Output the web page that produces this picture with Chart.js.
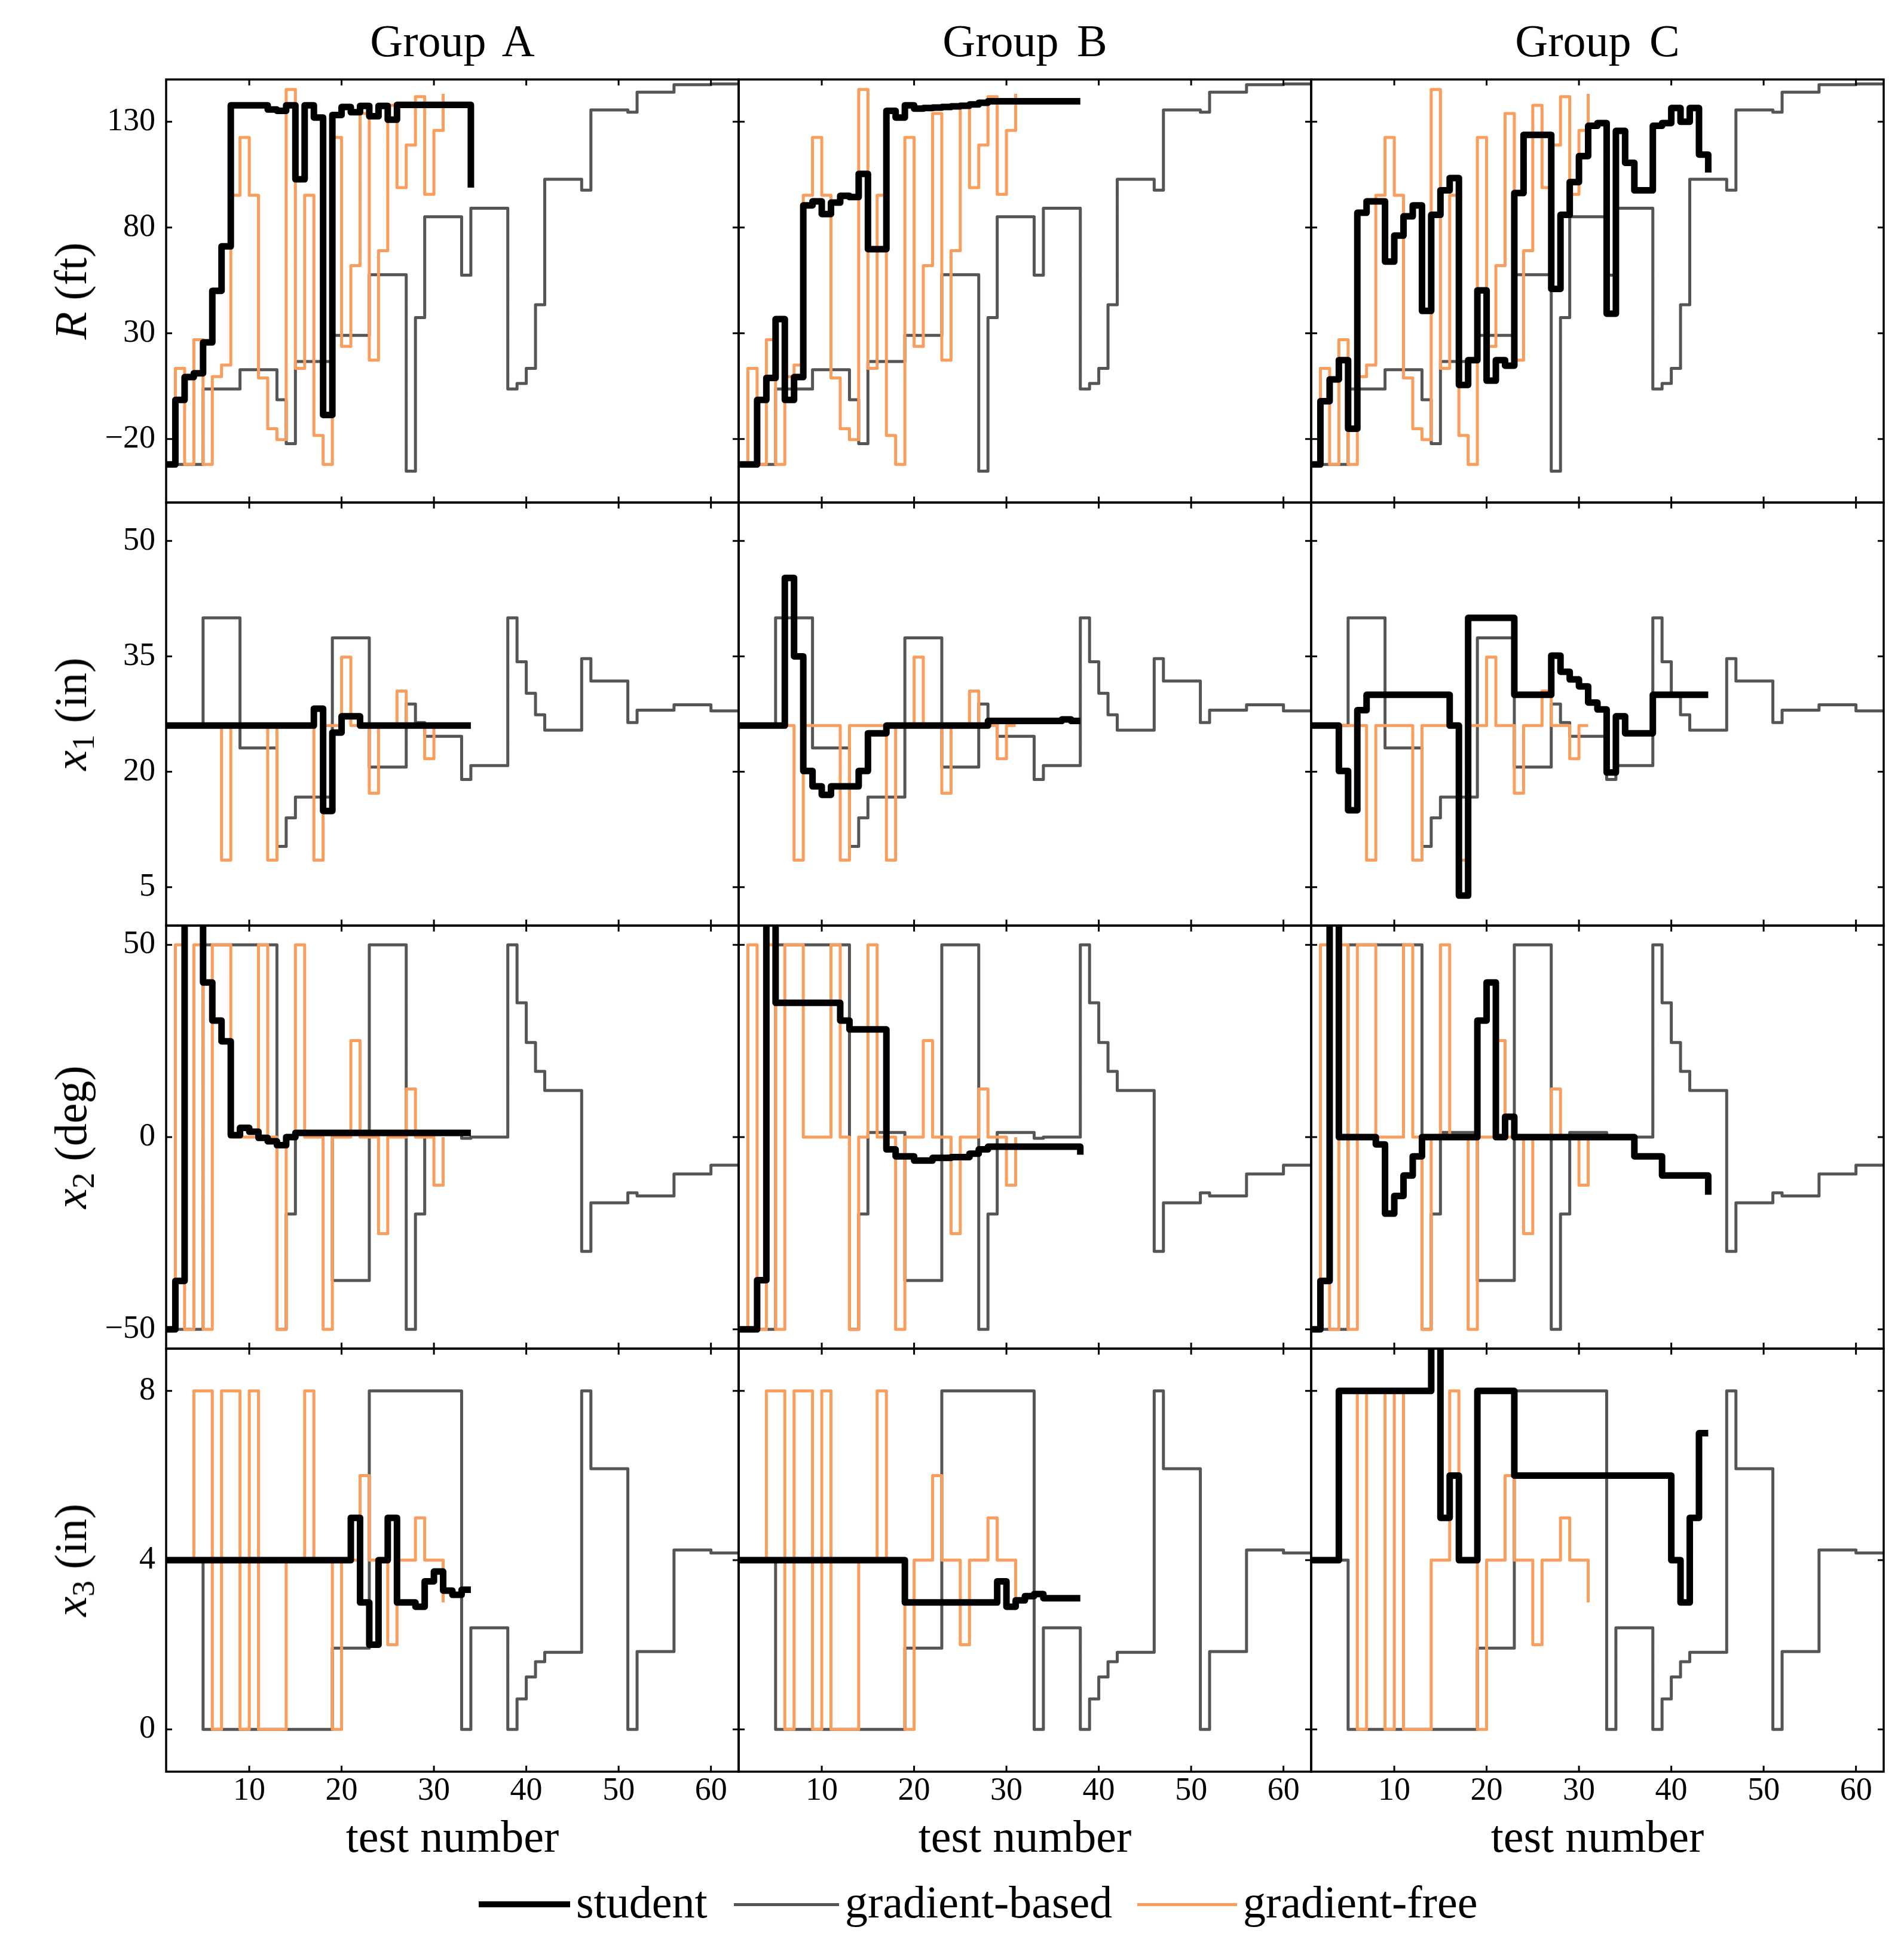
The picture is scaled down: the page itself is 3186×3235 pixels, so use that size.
<!DOCTYPE html>
<html>
<head>
<meta charset="utf-8">
<script src="https://cdn.jsdelivr.net/npm/chart.js@4.4.1/dist/chart.umd.min.js"></script>
<style>
  html, body { margin: 0; padding: 0; background: #fff; }
  #fig { position: relative; width: 3186px; height: 3235px; overflow: hidden; background: #fff;
         font-family: "Liberation Serif", "DejaVu Serif", serif; color: #000; }
  #fig canvas { position: absolute; }
  .txt { position: absolute; white-space: nowrap; line-height: 1; font-size: 76px; }
  .center { transform: translate(-50%, -50%); }
  .ytitle { transform: translate(-50%, -50%) rotate(-90deg); }
  .txt sub { font-size: 0.7em; vertical-align: -0.25em; line-height: 0; }
  .legline { position: absolute; }
</style>
</head>
<body>
<div id="fig"></div>
<script>
// ---- data ----
const groups = ["Group A", "Group B", "Group C"];
const rowTitles = ["<i>R</i> (ft)", "<i>x</i><sub>1</sub> (in)", "<i>x</i><sub>2</sub> (deg)", "<i>x</i><sub>3</sub> (in)"];
const xTicks = [10, 20, 30, 40, 50, 60];
const yTicks = [[-20, 30, 80, 130], [5, 20, 35, 50], [-50, 0, 50], [0, 4, 8]];
const yRanges = [[-50, 150], [0, 55], [-55, 55], [-1, 9]];

// gradient-based (same in every group)
const gradBasedR = [-32, -32, -32, -32, 3.7, 3.7, 3.7, 3.7, 12.8, 12.8, 12.8, 12.8, -1.4, -22.2, 16.7, 16.7, 16.7, 16.7, 29, 29, 29, 29, 57.7, 57.7, 57.7, 57.7, -35.2, 37.4, 85.1, 85.1, 85.1, 85.1, 57.5, 89.1, 89.1, 89.1, 89.1, 3.7, 6.3, 13.4, 43.5, 102.8, 102.8, 102.8, 102.8, 97.7, 135.6, 135.6, 135.6, 135.6, 134.5, 144, 144, 144, 144, 147.5, 147.5, 147.5, 147.5, 147.9, 147.9, 147.9, 147.9];
const gradBasedX1 = [26, 26, 26, 26, 40, 40, 40, 40, 23.1, 23.1, 23.1, 23.1, 10.3, 14.0, 16.7, 16.7, 16.7, 16.7, 37.4, 37.4, 37.4, 37.4, 20.6, 20.6, 20.6, 20.6, 28.8, 26.4, 24.6, 24.6, 24.6, 24.6, 19.0, 20.8, 20.8, 20.8, 20.8, 40, 34.3, 30.2, 27.4, 25.4, 25.4, 25.4, 25.4, 34.7, 31.8, 31.8, 31.8, 31.8, 26.4, 28.0, 28.0, 28.0, 28.0, 28.7, 28.7, 28.7, 28.7, 27.9, 27.9, 27.9, 27.9];
const gradBasedX2 = [-50, -50, -50, -50, 50, 50, 50, 50, 50, 50, 50, 50, -50, -20, 1.2, 1.2, 1.2, 1.2, -37.3, -37.3, -37.3, -37.3, 50, 50, 50, 50, -50, -20, 1.2, 1.2, 1.2, 1.2, -0.3, 0, 0, 0, 0, 50, 34.9, 24.6, 17.1, 12.1, 12.1, 12.1, 12.1, -29.7, -17.1, -17.1, -17.1, -17.1, -14.5, -15.3, -15.3, -15.3, -15.3, -9.6, -9.6, -9.6, -9.6, -7.3, -7.3, -7.3, -7.3];
const gradBasedX3 = [4, 4, 4, 4, 0, 0, 0, 0, 0, 0, 0, 0, 0, 0, 0, 0, 0, 0, 1.92, 1.92, 1.92, 1.92, 8, 8, 8, 8, 8, 8, 8, 8, 8, 8, 0, 2.4, 2.4, 2.4, 2.4, 0, 0.72, 1.24, 1.6, 1.82, 1.82, 1.82, 1.82, 8, 6.16, 6.16, 6.16, 6.16, 0, 1.84, 1.84, 1.84, 1.84, 4.24, 4.24, 4.24, 4.24, 4.17, 4.17, 4.17, 4.17];

// gradient-free (same in every group)
const gradFreeR = [-32, 13.4, -32, 27.0, -32, 9.5, 15, 95.3, 122.6, 95.3, 8.9, -15.1, -20.3, 145.3, 13.4, 95.3, -18.3, -32, 122.6, 23.8, 62, 133.9, 17.3, 69.1, 137.8, 98.9, 119, 141.9, 95.7, 125.9, 143.2];
const gradFreeX1 = [26, 26, 26, 26, 26, 26, 8.5, 26, 26, 26, 26, 8.5, 26, 26, 26, 26, 8.5, 26, 26, 34.9, 26, 26, 17.2, 26, 26, 30.5, 26, 26, 21.7, 26, 26];
const gradFreeX2 = [-50, 50, -50, 50, -50, 50, 50, 0, 0, 0, 50, 0, -50, 0, 50, 0, 0, -50, 0, 0, 25.1, 0, 0, -25.1, 0, 0, 12.5, 0, 0, -12.5, 0];
const gradFreeX3 = [4, 4, 4, 8, 8, 0, 8, 8, 0, 8, 0, 0, 0, 4, 4, 8, 4, 4, 0, 4, 4, 6, 4, 4, 2, 4, 4, 5, 4, 4, 3];

// students
const studentA_R = [-32, -1.5, 9.3, 11.1, 25.7, 50.1, 71.1, 137.8, 137.8, 137.8, 137.8, 135.8, 135.2, 137.8, 102.8, 137.8, 132, -8.6, 133.2, 137, 134.5, 137.5, 132.6, 137.5, 131, 138, 138, 138, 138, 138, 138, 138, 138, 98.9];
const studentA_X1 = [26, 26, 26, 26, 26, 26, 26, 26, 26, 26, 26, 26, 26, 26, 26, 26, 28.2, 14.9, 25.1, 27.2, 27.2, 26, 26, 26, 26, 26, 26, 26, 26, 26, 26, 26, 26, 26];
const studentA_X2 = [-50, -37.4, 62, 62, 40.2, 30.3, 24.9, 0.5, 2.4, 1.4, -0.2, -1.1, -2.1, 0, 1.1, 1.1, 1.1, 1.1, 1.1, 1.1, 1.1, 1.1, 1.1, 1.1, 1.1, 1.1, 1.1, 1.1, 1.1, 1.1, 1.1, 1.1, 1.1, 1.1];
const studentA_X3 = [4, 4, 4, 4, 4, 4, 4, 4, 4, 4, 4, 4, 4, 4, 4, 4, 4, 4, 4, 4, 5, 3, 2, 4, 5, 3, 3, 2.9, 3.5, 3.73, 3.28, 3.18, 3.3, 3.3];

const studentB_R = [-32, -32, -1.5, 8.9, 36.7, -1.5, 9.3, 90.5, 92.4, 86.4, 91.8, 95.0, 94.4, 105.4, 69.8, 69.8, 135.2, 132, 137.8, 136.2, 136.5, 136.7, 137, 137.3, 137.6, 138.2, 139, 139.7, 139.7, 139.7, 139.7, 139.7, 139.7, 139.7, 139.7, 139.7, 139.7, 139.7];
const studentB_X1 = [26, 26, 26, 26, 26, 45.2, 35.0, 20.1, 18.1, 17.0, 18.1, 18.1, 18.1, 20.1, 25.0, 25.0, 26, 26, 26, 26, 26, 26, 26, 26, 26, 26, 26, 26.6, 26.6, 26.6, 26.6, 26.6, 26.6, 26.6, 26.6, 26.8, 26.6, 26.6];
const studentB_X2 = [-50, -50, -37.2, 62, 34.9, 34.9, 34.9, 34.9, 34.9, 34.9, 34.9, 30.3, 28.0, 28.0, 28.0, 28.0, -3.2, -5.0, -5.0, -6.1, -6.1, -5.4, -5.4, -5.2, -5.2, -4.3, -3.2, -2.5, -2.5, -2.5, -2.5, -2.5, -2.5, -2.5, -2.5, -2.5, -2.5, -4.6];
const studentB_X3 = [4, 4, 4, 4, 4, 4, 4, 4, 4, 4, 4, 4, 4, 4, 4, 4, 4, 4, 3, 3, 3, 3, 3, 3, 3, 3, 3, 3, 3.5, 2.9, 3.05, 3.15, 3.2, 3.1, 3.1, 3.1, 3.1, 3.1];

const studentC_R = [-32, -2.1, 8.2, 17.3, -15.1, 87.0, 92.4, 92.4, 63.9, 76.2, 85.3, 90.5, 40.6, 86.0, 97.6, 103.4, 5.6, 17.3, 50.3, 7.6, 17.3, 14.7, 96.3, 123.8, 123.8, 123.8, 51.0, 86.0, 101.5, 113.8, 128.1, 129.4, 39.3, 125.7, 110.6, 97.6, 97.6, 128.1, 129.4, 136.5, 130, 136.5, 114.5, 106.0];
const studentC_X1 = [26, 26, 26, 20.1, 15.0, 28.0, 30, 30, 30, 30, 30, 30, 30, 30, 30, 26, 3.9, 40, 40, 40, 40, 40, 30, 30, 30, 30, 35.1, 33.0, 32.0, 31.1, 29.0, 28.1, 19.9, 27.2, 25, 25, 25, 30, 30, 30, 30, 30, 30, 30];
const studentC_X2 = [-50, -37.4, 62, 0, 0, 0, 0, -1.9, -19.9, -15.3, -10.0, -5.0, 0, 0, 0, 0, 0, 0, 30.3, 40.2, 0, 5.3, 0, 0, 0, 0, 0, 0, 0, 0, 0, 0, 0, 0, 0, -5, -5, -5, -10, -10, -10, -10, -10, -15];
const studentC_X3 = [4, 4, 4, 8, 8, 8, 8, 8, 8, 8, 8, 8, 8, 10.5, 5, 6, 4, 4, 8, 8, 8, 8, 6, 6, 6, 6, 6, 6, 6, 6, 6, 6, 6, 6, 6, 6, 6, 6, 6, 4, 3, 5, 7, 7];

const gradBased = [gradBasedR, gradBasedX1, gradBasedX2, gradBasedX3];
const gradFree = [gradFreeR, gradFreeX1, gradFreeX2, gradFreeX3];
const student = [
  [studentA_R, studentA_X1, studentA_X2, studentA_X3],
  [studentB_R, studentB_X1, studentB_X2, studentB_X3],
  [studentC_R, studentC_X1, studentC_X2, studentC_X3]
];

// ---- layout ----
const panelLeft = [278, 1236, 2194];
const panelTop = [133, 841, 1549, 2257];
const W = 958, H = 708;
const ML = 220, PT = 60, PR = 20, MB = 220;
const TICK = 10;
const GREY = "#555555", ORANGE = "#fa9e5e";

const fig = document.getElementById("fig");

function pts(arr) {
  return arr.map((v, i) => ({ x: i + 1, y: v }));
}
function fmt(v) {
  return v < 0 ? "\u2212" + Math.abs(v) : String(v);
}

// axes frame with inward ticks on all four sides
const framePlugin = {
  id: "frame",
  afterDatasetsDraw(chart) {
    const { ctx, chartArea: a, scales: { x, y } } = chart;
    ctx.save();
    ctx.strokeStyle = "#000";
    ctx.lineWidth = 3.5;
    ctx.strokeRect(a.left, a.top, a.right - a.left, a.bottom - a.top);
    ctx.lineWidth = 3;
    ctx.beginPath();
    x.ticks.forEach(t => {
      const px = x.getPixelForValue(t.value);
      ctx.moveTo(px, a.top); ctx.lineTo(px, a.top + TICK);
      ctx.moveTo(px, a.bottom); ctx.lineTo(px, a.bottom - TICK);
    });
    y.ticks.forEach(t => {
      const py = y.getPixelForValue(t.value);
      ctx.moveTo(a.left, py); ctx.lineTo(a.left + TICK, py);
      ctx.moveTo(a.right, py); ctx.lineTo(a.right - TICK, py);
    });
    ctx.stroke();
    ctx.restore();
  }
};

function makePanel(r, c) {
  const cv = document.createElement("canvas");
  const cw = ML + W + PR, ch = PT + H + MB;
  cv.width = cw; cv.height = ch;
  cv.style.width = cw + "px"; cv.style.height = ch + "px";
  cv.style.left = (panelLeft[c] - ML) + "px";
  cv.style.top = (panelTop[r] - PT) + "px";
  fig.appendChild(cv);

  const line = (label, data, color, width, order) => ({
    label, data: pts(data), borderColor: color, borderWidth: width,
    stepped: true, order, clip: 0, pointRadius: 0, fill: false,
    borderJoinStyle: "round", borderCapStyle: "butt"
  });

  new Chart(cv, {
    type: "line",
    data: {
      datasets: [
        line("gradient-based", gradBased[r], GREY, 5, 3),
        line("gradient-free", gradFree[r], ORANGE, 5, 2),
        line("student", student[c][r], "#000", 11, 1)
      ]
    },
    options: {
      responsive: false,
      animation: false,
      devicePixelRatio: 1,
      layout: { padding: { top: PT, right: PR, left: 0, bottom: 0 } },
      plugins: { legend: { display: false }, tooltip: { enabled: false } },
      scales: {
        x: {
          type: "linear", min: 1, max: 63, position: "bottom",
          afterBuildTicks: s => { s.ticks = xTicks.map(v => ({ value: v })); },
          afterFit: s => { s.height = MB; },
          grid: { display: false, drawTicks: false, tickLength: 0 },
          border: { display: false },
          ticks: {
            display: r === 3, color: "#000", padding: 0, maxRotation: 0, autoSkip: false,
            font: { family: "Liberation Serif", size: 54, lineHeight: 1.2 }
          },
          title: {
            display: r === 3, text: "test number", color: "#000",
            font: { family: "Liberation Serif", size: 76, lineHeight: 1.2 },
            padding: { top: 0, bottom: 60 }
          }
        },
        y: {
          type: "linear", min: yRanges[r][0], max: yRanges[r][1],
          afterBuildTicks: s => { s.ticks = yTicks[r].map(v => ({ value: v })); },
          afterFit: s => { s.width = ML; },
          grid: { display: false, drawTicks: false, tickLength: 0 },
          border: { display: false },
          ticks: {
            display: c === 0, color: "#000", padding: 18, autoSkip: false,
            callback: v => fmt(v),
            font: { family: "Liberation Serif", size: 54, lineHeight: 1.2 }
          }
        }
      }
    },
    plugins: [framePlugin]
  });
}

for (let r = 0; r < 4; r++) {
  for (let c = 0; c < 3; c++) makePanel(r, c);
}

// ---- text: group titles, y titles, legend ----
function addText(html, x, y, cls, extra) {
  const d = document.createElement("div");
  d.className = "txt " + cls;
  d.innerHTML = html;
  d.style.left = x + "px";
  d.style.top = y + "px";
  if (extra) Object.assign(d.style, extra);
  fig.appendChild(d);
  return d;
}
groups.forEach((g, c) => addText(g, panelLeft[c] + W / 2, 68, "center", { wordSpacing: "0.15em" }));
rowTitles.forEach((t, r) => addText(t, 118, panelTop[r] + H / 2, "ytitle"));

const legendItems = [
  { label: "student", color: "#000", width: 10, x0: 801, x1: 954 },
  { label: "gradient-based", color: GREY, width: 5, x0: 1228, x1: 1404 },
  { label: "gradient-free", color: ORANGE, width: 5, x0: 1903, x1: 2070 }
];
const legendY = 3187;
legendItems.forEach(it => {
  const l = document.createElement("div");
  l.className = "legline";
  Object.assign(l.style, {
    left: it.x0 + "px", top: (legendY - it.width / 2) + "px",
    width: (it.x1 - it.x0) + "px", height: it.width + "px", background: it.color
  });
  fig.appendChild(l);
  addText(it.label, it.x1 + 10, legendY, "", { transform: "translateY(-55%)" });
});
</script>
</body>
</html>
